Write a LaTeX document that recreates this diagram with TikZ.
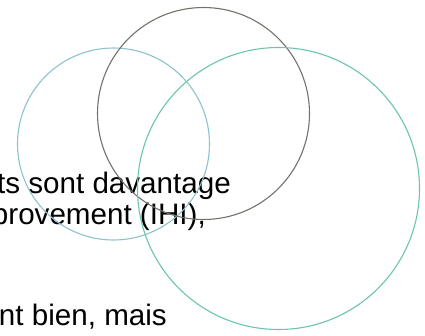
\documentclass[tikz,border=0pt]{standalone}
\usepackage{fontspec}
\setmainfont{Liberation Sans}
\definecolor{lefttc}{HTML}{8CC3CC}
\definecolor{midc}{HTML}{75716A}
\definecolor{righttc}{HTML}{6CC4AE}
\begin{document}
\begin{tikzpicture}[x=1pt,y=-1pt,
  ring/.style={line width=1.1pt},
  txt/.style={inner sep=0pt,anchor=base east,font=\fontsize{29.6}{35}\selectfont,text=black}]
\useasboundingbox (0,0) rectangle (425,335);
\node[txt] (l1) at (231,193) {ts sont davantage};
\node[txt] (l2) at (206,224) {provement (IHI),};
\node[txt] (l3) at (167,325) {nt bien, mais};
\draw[ring,lefttc] (113.5,144) circle[radius=96];
\draw[ring,midc] (203.5,113.5) circle[radius=106];
\draw[ring,righttc] (278.5,188.5) circle[radius=141];
\end{tikzpicture}
\end{document}
